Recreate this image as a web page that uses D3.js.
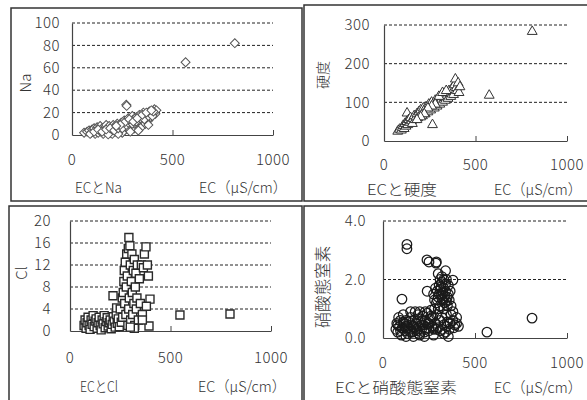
<!DOCTYPE html>
<html><head><meta charset="utf-8">
<script src="https://cdn.jsdelivr.net/npm/d3@7"></script>
<style>
html,body{margin:0;padding:0;background:#fff;}
svg{display:block;}
text{font-family:"Noto Sans CJK JP","Noto Sans",sans-serif;fill:#333;font-weight:300;}
</style></head><body>
<svg id="c" width="587" height="400"></svg>
<script>
// ---------- data ----------
const xTicks = [0, 500, 1000];
const xUnitLabel = "EC（μS/cm）";

const naTicks = [0, 20, 40, 60, 80, 100];
const naData = [[60,2],[75,3],[85,4],[95,2],[100,5],[105,3],[110,6],[115,1],[120,4],[125,7],[130,2],[135,5],[140,8],[145,3],[150,6],[155,1],[160,4],[165,7],[170,9],[175,3],[180,5],[185,8],[190,2],[195,6],[200,4],[205,9],[210,7],[215,3],[220,5],[225,10],[230,8],[235,4],[240,6],[245,11],[250,9],[255,3],[260,13],[265,7],[270,27],[272,26],[275,10],[280,15],[285,5],[290,12],[295,8],[300,17],[305,14],[310,6],[315,11],[320,16],[325,9],[330,13],[335,18],[340,12],[345,7],[350,15],[355,20],[360,11],[365,17],[370,14],[375,19],[380,13],[385,21],[390,16],[395,18],[400,20],[410,23],[415,19],[420,22],[330,4],[290,3],[250,2],[200,1],[180,0.5],[230,1],[310,10],[345,14],[365,10],[380,9],[90,1],[110,3],[130,5],[150,3],[170,5],[190,6],[210,4],[230,6],[250,6],[270,9],[280,11],[300,10],[320,12],[340,15],[360,14],[380,17],[400,17],[405,21],[260,11],[240,9],[220,8],[285,14],[305,12],[325,15],[350,18],[370,20],[395,22],[565,65],[810,82]];

const hdTicks = [0, 100, 200, 300];
const hdData = [[75,25],[85,30],[95,28],[100,35],[105,40],[110,32],[115,45],[120,38],[125,50],[126,72],[130,42],[135,55],[140,48],[145,60],[150,52],[155,45],[160,58],[165,65],[170,55],[175,62],[180,70],[185,60],[190,75],[195,68],[200,80],[205,72],[210,65],[215,85],[220,78],[225,70],[230,88],[235,82],[240,75],[245,95],[250,88],[255,80],[260,100],[265,42],[270,92],[275,85],[280,105],[285,98],[290,90],[295,110],[300,102],[305,95],[310,115],[315,108],[320,100],[325,120],[330,112],[335,105],[340,125],[345,118],[350,110],[355,130],[360,122],[365,115],[370,135],[375,128],[380,120],[385,145],[390,160],[395,138],[400,130],[405,150],[410,125],[415,140],[300,115],[320,125],[340,130],[280,95],[260,90],[240,85],[220,70],[200,62],[180,55],[575,118],[810,283]];

const clTicks = [0, 4, 8, 12, 16, 20];
const clData = [[70,1],[75,2],[80,0.5],[85,1.5],[90,2.5],[95,1],[100,0.3],[105,2],[110,1.2],[115,2.8],[120,0.8],[125,1.8],[130,2.2],[135,0.5],[140,1.5],[145,2.5],[150,1],[155,0.2],[160,2],[165,1.3],[170,2.8],[175,0.6],[180,1.7],[185,2.4],[190,0.9],[195,1.5],[200,2],[205,0.4],[210,1.2],[214,6.4],[215,2.6],[220,1.8],[225,0.7],[230,3],[232,4.2],[235,1.4],[240,2.2],[245,0.8],[250,4],[255,1.6],[260,6],[262,2.5],[265,7],[268,9],[270,11],[272,5],[275,12.5],[278,3],[280,8],[282,14],[285,10],[288,1],[290,15],[292,4],[293,17],[295,6],[298,15.5],[300,12],[302,2],[305,9],[308,14],[310,7],[312,3],[315,11],[318,5],[320,13],[322,1],[325,8],[328,10.5],[330,4],[333,6],[335,12],[340,2],[345,9.5],[350,5],[355,12],[360,3],[365,11.5],[370,14],[378,15.3],[385,12],[390,10],[398,5.8],[393,0.9],[380,4.5],[360,2],[320,0.5],[300,0.7],[547,2.9],[796,3.1]];

const noTicks = [0, 2, 4];
const noData = [[70,0.3],[75,0.5],[80,0.2],[85,0.7],[90,0.4],[95,0.6],[100,0.1],[105,0.35],[110,0.8],[115,0.5],[120,0.25],[125,0.6],[130,0.4],[135,0.15],[140,0.55],[145,0.3],[150,0.7],[155,0.45],[160,0.2],[165,0.6],[170,0.35],[175,0.9],[180,0.5],[185,0.25],[190,0.65],[195,0.4],[200,0.1],[205,0.55],[210,0.3],[215,0.75],[220,0.45],[225,0.2],[230,0.6],[235,0.35],[240,0.85],[245,0.5],[250,0.25],[255,0.65],[260,0.95],[265,0.4],[270,0.7],[275,0.3],[280,1.0],[285,0.5],[290,0.8],[300,0.35],[310,0.6],[320,0.3],[330,0.45],[340,0.2],[350,0.55],[360,0.3],[370,0.8],[380,0.6],[390,0.45],[400,0.5],[410,0.4],[150,0.9],[200,0.9],[125,0.05],[165,0.05],[225,0.05],[275,0.1],[355,0.05],[80,0.45],[95,0.25],[110,0.55],[120,0.4],[135,0.35],[150,0.2],[165,0.4],[180,0.3],[195,0.15],[210,0.45],[230,0.3],[250,0.5],[270,0.35],[290,0.3],[310,0.25],[330,0.15],[345,0.4],[365,0.5],[385,0.35],[400,0.7],[190,0.8],[230,0.9],[260,0.75],[320,0.7],[345,0.8],[290,1.2],[295,1.6],[300,1.4],[305,1.8],[310,1.1],[315,1.5],[320,1.9],[325,1.3],[330,1.7],[335,1.2],[340,1.6],[345,2.0],[350,1.4],[355,1.8],[360,1.3],[365,1.6],[370,1.1],[300,2.2],[320,2.1],[340,2.3],[310,2.0],[285,1.7],[275,1.5],[330,1.0],[350,1.1],[280,1.3],[295,1.3],[305,1.5],[315,1.75],[325,1.55],[335,1.45],[345,1.25],[355,1.5],[300,1.0],[320,1.35],[340,1.85],[330,2.0],[310,1.65],[130,3.2],[130,3.05],[239,2.67],[250,2.6],[288,2.56],[290,2.6],[380,1.98],[103,1.33],[565,0.2],[810,0.68],[240,1.6],[380,0.9]];

// ---------- layout ----------
const panels = [
  {frame:[11,8,302,201], plot:[72,273,23,135], ticks:naTicks, fmt:d3.format("d"), data:naData,
   ylab:"Na", ylabSize:15, ylabPos:[26,83], tickRight:60, xLabY:160, titleY:188, title:"ECとNa", titleX:75, titleW:47, unitX:199, sym:"diamond"},
  {frame:[304,5,620,201], plot:[384,567,25,141], ticks:hdTicks, fmt:d3.format("d"), data:hdData,
   ylab:"硬度", ylabSize:14, ylabPos:[323,75], tickRight:370, xLabY:165, titleY:190, title:"ECと硬度", titleX:367, titleW:70, unitX:494, sym:"triangle"},
  {frame:[9,206,302,420], plot:[70,271,221,331], ticks:clTicks, fmt:d3.format("d"), data:clData,
   ylab:"Cl", ylabSize:15, ylabPos:[22,273], tickRight:51, xLabY:358, titleY:387, title:"ECとCl", titleX:80, titleW:38, unitX:198, sym:"square"},
  {frame:[304,206,620,420], plot:[383,567,221,338], ticks:noTicks, fmt:d3.format(".1f"), data:noData,
   ylab:"硝酸態窒素", ylabSize:16.5, ylabPos:[323,287], tickRight:366, xLabY:363, titleY:388, title:"ECと硝酸態窒素", titleX:335, titleW:122, unitX:494, sym:"circle"}
];

const svg = d3.select("#c");

panels.forEach(p => {
  const g = svg.append("g");
  const [fx0, fy0, fx1, fy1] = p.frame;
  g.append("rect").attr("x", fx0).attr("y", fy0).attr("width", fx1 - fx0).attr("height", fy1 - fy0)
    .attr("fill", "#fff").attr("stroke", "#333").attr("stroke-width", 1.5);

  const [px0, px1, pyT, pyB] = p.plot;
  const x = d3.scaleLinear().domain([0, 1000]).range([px0, px1]);
  const yMax = p.ticks[p.ticks.length - 1];
  const y = d3.scaleLinear().domain([0, yMax]).range([pyB, pyT]);

  // gridlines
  g.selectAll(".grid").data(p.ticks.filter(t => t > 0)).enter().append("line")
    .attr("x1", px0).attr("x2", px1).attr("y1", d => y(d)).attr("y2", d => y(d))
    .attr("stroke", "#222").attr("stroke-width", 1).attr("stroke-dasharray", "3,2");

  // x axis (ticks pointing inward)
  const xa = g.append("g").attr("transform", `translate(0,${pyB})`)
    .call(d3.axisBottom(x).tickValues(xTicks).tickSizeInner(-5).tickSizeOuter(0).tickFormat(""));
  xa.select(".domain").attr("stroke", "#444").attr("stroke-width", 1.2);
  xa.selectAll(".tick line").attr("stroke", "#444");

  // y axis line
  const ya = g.append("g").attr("transform", `translate(${px0},0)`)
    .call(d3.axisLeft(y).tickValues(p.ticks).tickSize(0).tickFormat(""));
  ya.select(".domain").attr("stroke", "#444").attr("stroke-width", 1.2);

  // x tick labels
  g.selectAll(".xl").data(xTicks).enter().append("text")
    .attr("x", d => x(d)).attr("y", p.xLabY).attr("dy", "0.35em")
    .attr("text-anchor", "middle").attr("font-size", 15).attr("letter-spacing", 0.5)
    .text(d => d);
  // y tick labels
  g.selectAll(".yl").data(p.ticks).enter().append("text")
    .attr("x", p.tickRight).attr("y", d => y(d)).attr("dy", "0.35em")
    .attr("text-anchor", "end").attr("font-size", 15).attr("letter-spacing", 0.5)
    .text(d => p.fmt(d));

  // y label rotated
  g.append("text").attr("transform", `translate(${p.ylabPos[0]},${p.ylabPos[1]}) rotate(-90)`)
    .attr("text-anchor", "middle").attr("dy", "0.35em").attr("font-size", p.ylabSize).text(p.ylab);

  // titles
  g.append("text").attr("x", p.titleX).attr("y", p.titleY).attr("dy", "0.35em")
    .attr("font-size", 15).attr("textLength", p.titleW).attr("lengthAdjust", "spacingAndGlyphs").text(p.title);
  g.append("text").attr("x", p.unitX).attr("y", p.titleY).attr("dy", "0.35em")
    .attr("font-size", 15).attr("textLength", 88).attr("lengthAdjust", "spacingAndGlyphs").text(xUnitLabel);

  // markers
  const pts = g.append("g");
  if (p.sym === "circle") {
    pts.selectAll("circle").data(p.data).enter().append("circle")
      .attr("cx", d => x(d[0])).attr("cy", d => y(d[1])).attr("r", 4.8)
      .attr("fill", "none").attr("stroke", "#1a1a1a").attr("stroke-width", 1.25);
  } else {
    let gen, rot = 0, stroke = "#333", sw = 1;
    if (p.sym === "diamond") { gen = d3.symbol(d3.symbolSquare, 40); rot = 45; stroke = "#555"; }
    if (p.sym === "triangle") { gen = d3.symbol(d3.symbolTriangle, 42); stroke = "#333"; }
    if (p.sym === "square") { gen = d3.symbol(d3.symbolSquare, 64); stroke = "#2a2a2a"; sw = 1.4; }
    pts.selectAll("path").data(p.data).enter().append("path")
      .attr("d", gen)
      .attr("transform", d => `translate(${x(d[0])},${y(d[1])}) rotate(${rot})`)
      .attr("fill", "#fff").attr("stroke", stroke).attr("stroke-width", sw);
  }
});
</script>
</body></html>
